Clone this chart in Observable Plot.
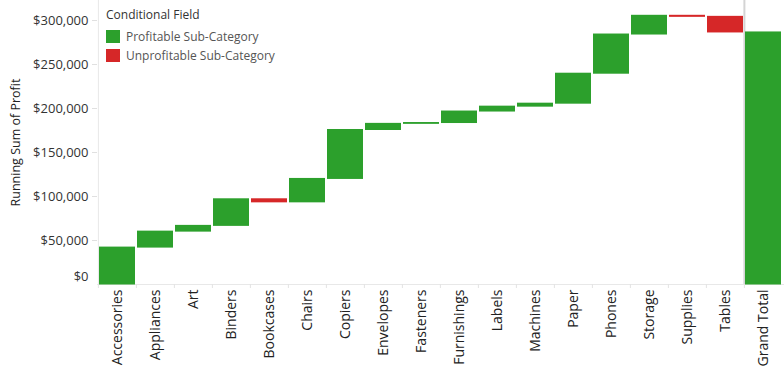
<!DOCTYPE html>
<html>
<head>
<meta charset="utf-8">
<script src="https://cdn.jsdelivr.net/npm/d3@7"></script>
<script src="https://cdn.jsdelivr.net/npm/@observablehq/plot@0.6"></script>
<style>
  body { margin: 0; background: #fff; font-family: "Open Sans", sans-serif; }
  #wrap { position: relative; width: 784px; height: 384px; }
  #legend { position: absolute; left: 106px; top: 6px; font-size: 12px; color: #333; }
  #legend .title { margin-bottom: 4px; }
  #legend .item { display: flex; align-items: center; height: 19px; color: #555; }
  #legend .sw { width: 14px; height: 13px; margin-right: 6px; }
</style>
</head>
<body>
<div id="wrap"></div>
<script>
const categories = ["Accessories","Appliances","Art","Binders","Bookcases","Chairs","Copiers","Envelopes","Fasteners","Furnishings","Labels","Machines","Paper","Phones","Storage","Supplies","Tables"];
const profits = [41937, 18138, 6528, 30222, -3473, 26590, 55618, 6964, 950, 13059, 5546, 3385, 34054, 44516, 21279, -1189, -17725];
const totalLabel = "Grand Total";
const yTicks = [50000, 100000, 150000, 200000, 250000, 300000];
const yZeroTick = [0];
const legendTitle = "Conditional Field";
const legendItems = ["Profitable Sub-Category", "Unprofitable Sub-Category"];
const legendColors = ["#2ca02c", "#d62728"];

const running = d3.cumsum(profits);
const rows = categories.map((c, i) => ({
  cat: c,
  start: i === 0 ? 0 : running[i - 1],
  end: running[i],
  kind: profits[i] >= 0 ? legendItems[0] : legendItems[1]
}));
rows.push({cat: totalLabel, start: 0, end: running[running.length - 1], kind: legendItems[0]});
const domainX = [...categories, totalLabel];
const fmt = d => "$" + d3.format(",")(d);

const chart = Plot.plot({
  width: 784,
  height: 384,
  marginLeft: 97,
  marginRight: 0,
  marginTop: 0,
  marginBottom: 100,
  style: {fontFamily: "Open Sans, sans-serif", fontSize: "13px", color: "#333"},
  x: {domain: domainX, padding: 0.05, align: 0.5},
  y: {domain: [0, 322700]},
  color: {domain: legendItems, range: legendColors},
  marks: [
    Plot.ruleX([categories[0]], {dx: -19.1, stroke: "#e8e8e8"}),
    Plot.ruleX([totalLabel], {dx: -19.1, stroke: "#d4d4d4", strokeWidth: 2}),
    Plot.ruleY([0], {stroke: "#e8e8e8"}),
    Plot.barY(rows, {x: "cat", y1: "start", y2: "end", fill: "kind", insetTop: -0.5, insetBottom: -0.5}),
    Plot.axisY({
      ticks: yTicks,
      tickFormat: fmt,
      tickSize: 5,
      tickPadding: 4,
      stroke: "#e0e0e0",
      fontSize: 13,
      fill: "#333",
      label: null
    }),
    Plot.axisY({
      ticks: yZeroTick,
      tickFormat: fmt,
      tickSize: 0,
      tickPadding: 9,
      dy: -8,
      fontSize: 13,
      fill: "#333",
      label: "Running Sum of Profit",
      labelAnchor: "center",
      labelArrow: "none",
      labelOffset: 86
    }),
    Plot.axisX({
      ticks: domainX,
      tickSize: 4,
      stroke: "#e4e4e4",
      dx: -19.1,
      text: null,
      label: null
    }),
    Plot.axisX({
      ticks: domainX,
      tickSize: 0,
      tickRotate: -90,
      tickPadding: 5,
      fontSize: 14,
      fill: "#222",
      label: null
    })
  ]
});

// darken the y-axis title to match the reference
chart.querySelectorAll("g[aria-label='y-axis label'] text, g[aria-label='y-axis label']").forEach(el => {
  el.setAttribute("fill", "#222");
  el.setAttribute("font-size", "12.5");
  el.setAttribute("font-weight", "500");
});

const wrap = document.getElementById("wrap");
wrap.appendChild(chart);
const leg = document.createElement("div");
leg.id = "legend";
leg.innerHTML = `<div class="title">${legendTitle}</div>` +
  legendItems.map((t, i) => `<div class="item"><span class="sw" style="background:${legendColors[i]}"></span>${t}</div>`).join("");
wrap.appendChild(leg);
</script>
</body>
</html>
